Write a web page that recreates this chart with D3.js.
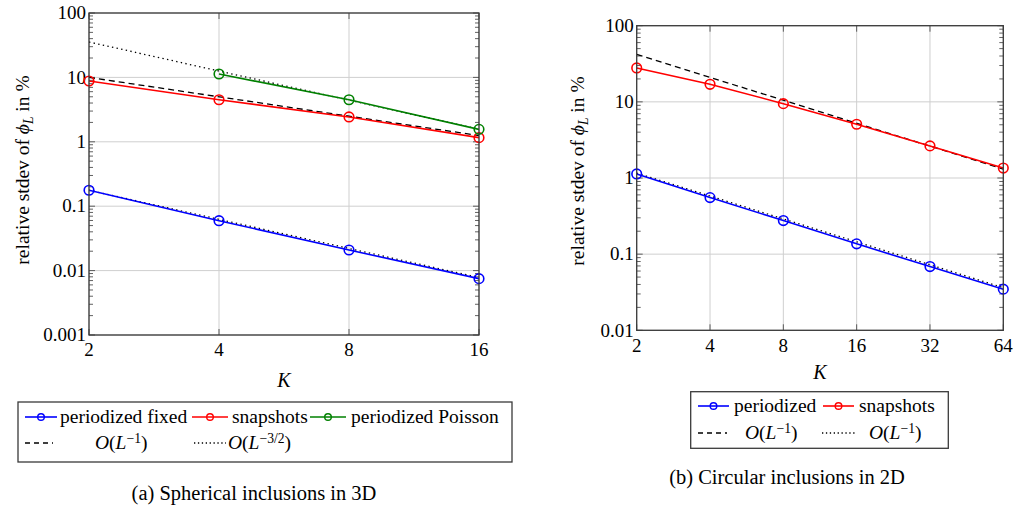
<!DOCTYPE html>
<html>
<head>
<meta charset="utf-8">
<script src="https://cdn.jsdelivr.net/npm/d3@7"></script>
</head>
<body style="margin:0;background:#fff">
<svg id="fig" width="1015" height="506" style="display:block"></svg>
<script>
// ---------- data: (a) spherical inclusions in 3D ----------
const kTicks3D = [2, 4, 8, 16];
const yTicks3D = [0.001, 0.01, 0.1, 1, 10, 100];
const kFixed3D = [2, 4, 8, 16];
const fixed3D = [0.177, 0.0596, 0.0209, 0.0075];
const kSnap3D = [2, 4, 8, 16];
const snapshots3D = [8.8, 4.5, 2.43, 1.16];
const kPoisson3D = [4, 8, 16];
const poisson3D = [11.3, 4.5, 1.56];
const kRate3D = [2, 16];
const rateL1_3D = [10, 1.25];
const rateL32High3D = [35.5, 1.57];
const rateL32Low3D = [0.177, 0.0078];

// ---------- data: (b) circular inclusions in 2D ----------
const kTicks2D = [2, 4, 8, 16, 32, 64];
const yTicks2D = [0.01, 0.1, 1, 10, 100];
const kPer2D = [2, 4, 8, 16, 32, 64];
const periodized2D = [1.13, 0.553, 0.276, 0.1365, 0.0687, 0.0347];
const kSnap2D = [2, 4, 8, 16, 32, 64];
const snapshots2D = [27.9, 17.0, 9.47, 5.08, 2.64, 1.35];
const kRate2D = [2, 64];
const rateL1Dashed2D = [42, 1.31];
const rateL1Dotted2D = [1.16, 0.0363];

const BLUE = "#0000ff", RED = "#ff0000", GREEN = "#008000";
const GRID = "#cfcfcf", FRAME = "#3a3a3a";
const FONT = '"Liberation Serif"';
const TICK_FS = 19, LABEL_FS = 19.5, LEG_FS = 19.5, CAP_FS = 20.5;
const DOTS = "1.4,3.3", DASHES = "6,4";

const svg = d3.select("#fig");

function zip(xs, ys) { return xs.map((x, i) => [x, ys[i]]); }

// Math-style text: pieces are [text, style] with style
// "r" (roman), "i" (italic), "sup" (superscript), "sub" (italic subscript)
function mathText(sel, pieces, size) {
  pieces.forEach(([t, s]) => {
    const ts = sel.append("tspan").text(t);
    if (s === "i") ts.style("font-style", "italic");
    if (s === "sup") ts.attr("font-size", size * 0.7).attr("baseline-shift", "45%");
    if (s === "sub") ts.attr("font-size", size * 0.7).style("font-style", "italic").attr("baseline-shift", "-25%");
  });
  return sel;
}

function drawPanel(cfg) {
  const g = svg.append("g");
  const x = d3.scaleLog().base(2).domain(cfg.xDomain).range([cfg.left, cfg.right]);
  const y = d3.scaleLog().domain(cfg.yDomain).range([cfg.bottom, cfg.top]);

  // grid
  g.append("g").selectAll("line").data(cfg.xTicks).join("line")
    .attr("x1", d => x(d)).attr("x2", d => x(d))
    .attr("y1", cfg.top).attr("y2", cfg.bottom)
    .attr("stroke", GRID).attr("stroke-width", 1);
  g.append("g").selectAll("line").data(cfg.yTicks).join("line")
    .attr("y1", d => y(d)).attr("y2", d => y(d))
    .attr("x1", cfg.left).attr("x2", cfg.right)
    .attr("stroke", GRID).attr("stroke-width", 1);

  // minor y ticks, inside on both sides
  const minor = [];
  for (let i = 0; i < cfg.yTicks.length - 1; i++) {
    for (let m = 2; m <= 9; m++) minor.push(cfg.yTicks[i] * m);
  }
  const tk = g.append("g").attr("stroke", FRAME).attr("stroke-width", 0.8);
  minor.forEach(v => {
    tk.append("line").attr("x1", cfg.left).attr("x2", cfg.left + 4).attr("y1", y(v)).attr("y2", y(v));
    tk.append("line").attr("x1", cfg.right).attr("x2", cfg.right - 4).attr("y1", y(v)).attr("y2", y(v));
  });
  cfg.yTicks.forEach(v => {
    tk.append("line").attr("x1", cfg.left).attr("x2", cfg.left + 6).attr("y1", y(v)).attr("y2", y(v));
    tk.append("line").attr("x1", cfg.right).attr("x2", cfg.right - 6).attr("y1", y(v)).attr("y2", y(v));
  });
  cfg.xTicks.forEach(v => {
    tk.append("line").attr("x1", x(v)).attr("x2", x(v)).attr("y1", cfg.bottom).attr("y2", cfg.bottom - 6);
    tk.append("line").attr("x1", x(v)).attr("x2", x(v)).attr("y1", cfg.top).attr("y2", cfg.top + 6);
  });

  // tick labels
  g.append("g").selectAll("text").data(cfg.yTicks).join("text")
    .attr("x", cfg.left - 3).attr("y", d => y(d)).attr("dy", "0.33em")
    .attr("text-anchor", "end").attr("font-size", TICK_FS)
    .text(d => d3.format("~g")(d));
  g.append("g").selectAll("text").data(cfg.xTicks).join("text")
    .attr("x", d => x(d)).attr("y", cfg.bottom + 15).attr("dy", "0.33em")
    .attr("text-anchor", "middle").attr("font-size", TICK_FS)
    .text(d => d);

  // axis titles
  const yl = g.append("text")
    .attr("transform", `translate(${cfg.yLabelX},${cfg.yLabelY}) rotate(-90)`)
    .attr("text-anchor", "middle").attr("dy", "0.33em").attr("font-size", LABEL_FS);
  mathText(yl, [["relative stdev of ", "r"], ["ϕ", "i"], ["L", "sub"], [" in %", "r"]], LABEL_FS);
  g.append("text").attr("x", (cfg.left + cfg.right) / 2).attr("y", cfg.xLabelY)
    .attr("text-anchor", "middle").attr("dy", "0.33em").attr("font-size", 20)
    .style("font-style", "italic").text("K");

  // clip region for lines
  const cid = "clip" + cfg.id;
  g.append("clipPath").attr("id", cid).append("rect")
    .attr("x", cfg.left).attr("y", cfg.top)
    .attr("width", cfg.right - cfg.left).attr("height", cfg.bottom - cfg.top);
  const plot = g.append("g").attr("clip-path", `url(#${cid})`);
  const line = d3.line().x(d => x(d[0])).y(d => y(d[1]));

  // reference rates
  cfg.rates.forEach(r => {
    plot.append("path").attr("d", line(r.pts)).attr("fill", "none")
      .attr("stroke", "#000").attr("stroke-width", 1.3)
      .attr("stroke-dasharray", r.dash);
  });
  // data series
  cfg.series.forEach(s => {
    plot.append("path").attr("d", line(s.pts)).attr("fill", "none")
      .attr("stroke", s.color).attr("stroke-width", 1.6);
  });
  cfg.series.forEach(s => {
    g.append("g").selectAll("circle").data(s.pts).join("circle")
      .attr("cx", d => x(d[0])).attr("cy", d => y(d[1])).attr("r", 4.8)
      .attr("fill", "none").attr("stroke", s.color).attr("stroke-width", 1.6);
  });

  // frame
  g.append("rect").attr("x", cfg.left).attr("y", cfg.top)
    .attr("width", cfg.right - cfg.left).attr("height", cfg.bottom - cfg.top)
    .attr("fill", "none").attr("stroke", FRAME).attr("stroke-width", 1.3);

  // legend
  const L = cfg.legend;
  g.append("rect").attr("x", L.x).attr("y", L.y).attr("width", L.w).attr("height", L.h)
    .attr("fill", "#fff").attr("stroke", FRAME).attr("stroke-width", 1.3);
  L.items.forEach(it => {
    const sym = g.append("g");
    sym.append("line").attr("x1", it.sx).attr("x2", it.sx + it.sw)
      .attr("y1", it.cy).attr("y2", it.cy)
      .attr("stroke", it.color).attr("stroke-width", it.marker ? 1.6 : 1.3)
      .attr("stroke-dasharray", it.dash || null);
    if (it.marker) {
      sym.append("circle").attr("cx", it.sx + it.sw / 2).attr("cy", it.cy).attr("r", 3.3)
        .attr("fill", "none").attr("stroke", it.color).attr("stroke-width", 1.4);
    }
    const t = g.append("text").attr("x", it.tx).attr("y", it.cy).attr("dy", "0.32em")
      .attr("font-size", LEG_FS);
    mathText(t, it.label, LEG_FS);
  });

  // caption
  g.append("text").attr("x", cfg.caption.x).attr("y", cfg.caption.y).attr("dy", "0.33em")
    .attr("text-anchor", "middle").attr("font-size", CAP_FS).text(cfg.caption.text);
}

drawPanel({
  id: "a", left: 89, right: 479, top: 13, bottom: 335,
  xDomain: [2, 16], yDomain: [0.001, 100],
  xTicks: kTicks3D, yTicks: yTicks3D,
  yLabelX: 23, yLabelY: 170, xLabelY: 380,
  rates: [
    { pts: zip(kRate3D, rateL1_3D), dash: DASHES },
    { pts: zip(kRate3D, rateL32High3D), dash: DOTS },
    { pts: zip(kRate3D, rateL32Low3D), dash: DOTS }
  ],
  series: [
    { pts: zip(kFixed3D, fixed3D), color: BLUE },
    { pts: zip(kSnap3D, snapshots3D), color: RED },
    { pts: zip(kPoisson3D, poisson3D), color: GREEN }
  ],
  legend: {
    x: 18, y: 402, w: 494, h: 60,
    items: [
      { sx: 25, sw: 32, cy: 417, color: BLUE, marker: true, tx: 60, label: [["periodized fixed", "r"]] },
      { sx: 192, sw: 36, cy: 417, color: RED, marker: true, tx: 232, label: [["snapshots", "r"]] },
      { sx: 310, sw: 36, cy: 417, color: GREEN, marker: true, tx: 351, label: [["periodized Poisson", "r"]] },
      { sx: 25, sw: 28, cy: 443, color: "#000", dash: "5,4", tx: 95, label: [["O", "i"], ["(", "r"], ["L", "i"], ["−1", "sup"], [")", "r"]] },
      { sx: 194, sw: 32, cy: 443, color: "#000", dash: "1.3,2.6", tx: 228, label: [["O", "i"], ["(", "r"], ["L", "i"], ["−3/2", "sup"], [")", "r"]] }
    ]
  },
  caption: { x: 254, y: 493, text: "(a) Spherical inclusions in 3D" }
});

drawPanel({
  id: "b", left: 636.7, right: 1003.3, top: 25.7, bottom: 330.3,
  xDomain: [2, 64], yDomain: [0.01, 100],
  xTicks: kTicks2D, yTicks: yTicks2D,
  yLabelX: 578, yLabelY: 171, xLabelY: 372,
  rates: [
    { pts: zip(kRate2D, rateL1Dashed2D), dash: DASHES },
    { pts: zip(kRate2D, rateL1Dotted2D), dash: DOTS }
  ],
  series: [
    { pts: zip(kPer2D, periodized2D), color: BLUE },
    { pts: zip(kSnap2D, snapshots2D), color: RED }
  ],
  legend: {
    x: 690.7, y: 391.7, w: 257.6, h: 56.6,
    items: [
      { sx: 698, sw: 31, cy: 406, color: BLUE, marker: true, tx: 734, label: [["periodized", "r"]] },
      { sx: 823, sw: 31, cy: 406, color: RED, marker: true, tx: 859, label: [["snapshots", "r"]] },
      { sx: 698, sw: 29, cy: 433, color: "#000", dash: "5,4", tx: 745, label: [["O", "i"], ["(", "r"], ["L", "i"], ["−1", "sup"], [")", "r"]] },
      { sx: 822, sw: 34, cy: 433, color: "#000", dash: "1.3,2.6", tx: 869, label: [["O", "i"], ["(", "r"], ["L", "i"], ["−1", "sup"], [")", "r"]] }
    ]
  },
  caption: { x: 787, y: 477, text: "(b) Circular inclusions in 2D" }
});

// serif face for every label
svg.selectAll("text").style("font-family", FONT).style("fill", "#000");
</script>
</body>
</html>
